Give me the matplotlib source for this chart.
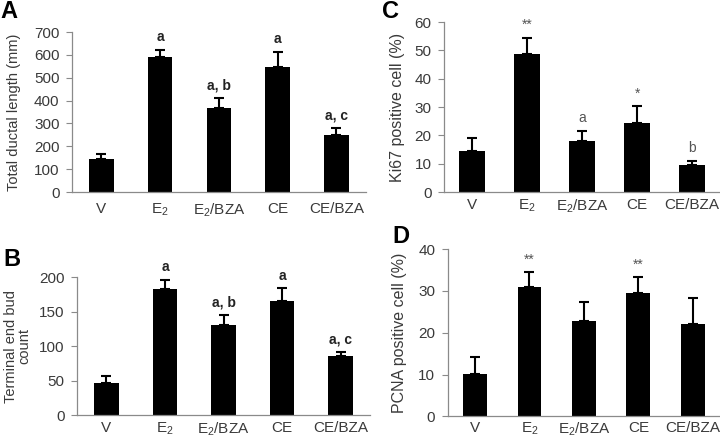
import numpy as np
import matplotlib
matplotlib.use('Agg')
import matplotlib.pyplot as plt

plt.rcParams['font.family'] = ['Liberation Sans', 'DejaVu Sans']
plt.rcParams['mathtext.fontset'] = 'custom'
plt.rcParams['mathtext.rm'] = 'Liberation Sans'

groups = ['V', r'$\mathregular{E_2}$', r'$\mathregular{E_2}$/BZA', 'CE', 'CE/BZA']

# panel A: total ductal length
ductal_mean = [144, 591, 368, 548, 251]
ductal_err = [22, 31, 45, 66, 28]
ductal_marks = ['', 'a', 'a, b', 'a', 'a, c']

# panel B: terminal end bud count
teb_mean = [47, 183, 130, 165, 85]
teb_err = [9, 13, 15, 19, 7]
teb_marks = ['', 'a', 'a, b', 'a', 'a, c']

# panel C: Ki67 positive cells
ki67_mean = [14.4, 48.6, 17.9, 24.3, 9.4]
ki67_err = [4.7, 5.9, 3.8, 5.9, 1.6]
ki67_marks = ['', '**', 'a', '*', 'b']

# panel D: PCNA positive cells
pcna_mean = [10.2, 30.9, 22.9, 29.4, 22.0]
pcna_err = [4.1, 3.5, 4.5, 3.8, 6.4]
pcna_marks = ['', '**', '', '**', '']

text_col = '#3a3a3a'
spine_col = '#8a8a8a'


def bar_panel(rect, mean, err, marks, ylim, yticks, ylabel, letter, letter_xy,
              bold_marks, mark_col, width=0.42, xpad=9, ylabel_size=10.5):
    ax = fig.add_axes(rect)
    x = np.arange(len(mean))
    ax.bar(x, mean, width=width, color='black', zorder=2)
    ax.errorbar(x, mean, yerr=[np.zeros(len(err)), err], fmt='none',
                ecolor='black', elinewidth=1.5, capsize=3.5, capthick=1.5, zorder=1)
    for xi, m, e, t in zip(x, mean, err, marks):
        if t:
            ax.annotate(t, (xi, m + e), xytext=(0, 4), textcoords='offset points',
                        ha='center', va='bottom', fontsize=10, color=mark_col,
                        fontweight='bold' if bold_marks else 'normal')
    ax.set_xlim(-0.5, 4.5)
    ax.set_ylim(*ylim)
    ax.set_yticks(yticks)
    ax.set_xticks(x)
    ax.set_xticklabels(groups)
    ax.tick_params(axis='x', length=0, pad=xpad, labelsize=11, labelcolor=text_col)
    ax.tick_params(axis='y', length=4, width=0.8, color=spine_col, pad=5,
                   labelsize=11, labelcolor=text_col)
    for s in ['top', 'right']:
        ax.spines[s].set_visible(False)
    for s in ['left', 'bottom']:
        ax.spines[s].set_color(spine_col)
        ax.spines[s].set_linewidth(0.9)
    ax.set_ylabel(ylabel, fontsize=ylabel_size, color=text_col, linespacing=0.95)
    fig.text(letter_xy[0], letter_xy[1], letter, fontsize=17, fontweight='bold',
             ha='left', va='top')
    return ax


fig = plt.figure(figsize=(7.2, 4.42), dpi=100)

axA = bar_panel([0.100, 0.5656, 0.408, 0.362], ductal_mean, ductal_err, ductal_marks,
                (0, 700), range(0, 701, 100), 'Total ductal length (mm)', 'A',
                (0.0, 1.0), True, '#222222', xpad=7)
axA.yaxis.set_label_coords(-0.175, 0.5)

axB = bar_panel([0.107, 0.0610, 0.407, 0.3120], teb_mean, teb_err, teb_marks,
                (0, 200), range(0, 201, 50), 'Terminal end bud\ncount', 'B',
                (0.004, 0.440), True, '#222222', xpad=4)
axB.yaxis.set_label_coords(-0.155, 0.5)

axC = bar_panel([0.6167, 0.5656, 0.383, 0.3846], ki67_mean, ki67_err, ki67_marks,
                (0, 60), range(0, 61, 10), 'Ki67 positive cell (%)', 'C',
                (0.530, 1.0), False, '#555555', width=0.47, xpad=4, ylabel_size=11.5)
axC.yaxis.set_label_coords(-0.14, 0.5)

axD = bar_panel([0.622, 0.058, 0.378, 0.3786], pcna_mean, pcna_err, pcna_marks,
                (0, 40), range(0, 41, 10), 'PCNA positive cell (%)', 'D',
                (0.545, 0.49), False, '#555555', width=0.44, xpad=3, ylabel_size=11.5)
axD.yaxis.set_label_coords(-0.15, 0.5)

fig.savefig('out.png', dpi=100)
